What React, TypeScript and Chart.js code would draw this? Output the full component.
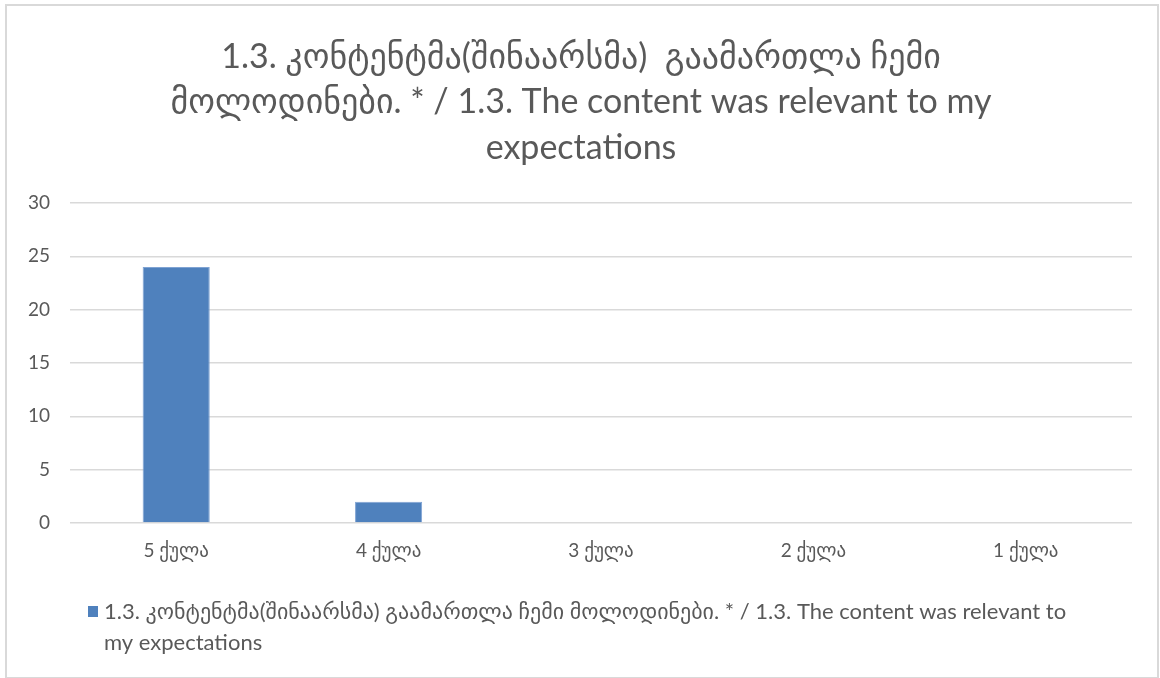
import React, { useEffect, useRef } from "react";
import { Chart, registerables } from "chart.js";

Chart.register(...registerables);

const categories = ["5 ქულა", "4 ქულა", "3 ქულა", "2 ქულა", "1 ქულა"];
const values = [24, 2, 0, 0, 0];
const seriesLabel =
  "1.3. კონტენტმა(შინაარსმა) გაამართლა ჩემი მოლოდინები. * / 1.3. The content was relevant to my expectations";
const titleLines = [
  "1.3. კონტენტმა(შინაარსმა)  გაამართლა ჩემი",
  "მოლოდინები. * / 1.3. The content was relevant to my",
  "expectations",
];
const legendLines = [
  "1.3. კონტენტმა(შინაარსმა) გაამართლა ჩემი მოლოდინები. * / 1.3. The content was relevant to",
  "my expectations",
];
const yMin = 0;
const yMax = 30;
const yStep = 5;

const FONT = "Lato, 'DejaVu Sans', sans-serif";
const TEXT = "#595959";
const BAR = "#4f81bd";

const decorPlugin = {
  id: "decor",
  afterDraw(chart: any) {
    const ctx = chart.ctx as CanvasRenderingContext2D;
    ctx.save();
    // title
    ctx.fillStyle = TEXT;
    ctx.textAlign = "center";
    ctx.textBaseline = "alphabetic";
    ctx.font = `34px ${FONT}`;
    const titleY = [68, 113, 159];
    titleLines.forEach((l, i) => ctx.fillText(l, 581, titleY[i]));
    // legend
    ctx.fillStyle = BAR;
    ctx.fillRect(88, 606, 10, 11);
    ctx.fillStyle = TEXT;
    ctx.textAlign = "left";
    ctx.textBaseline = "middle";
    ctx.font = `22px ${FONT}`;
    const legY = [612, 643];
    legendLines.forEach((l, i) => ctx.fillText(l, 104, legY[i]));
    ctx.restore();
  },
};

export default function App() {
  const ref = useRef<HTMLCanvasElement | null>(null);
  useEffect(() => {
    document.body.style.margin = "0";
    const canvas = ref.current!;
    const chart = new Chart(canvas, {
      type: "bar",
      data: {
        labels: categories,
        datasets: [
          {
            label: seriesLabel,
            data: values,
            backgroundColor: BAR,
            borderColor: "#7fa3d3",
            borderWidth: 1,
            categoryPercentage: 1,
            barPercentage: 0.316,
          },
        ],
      },
      options: {
        responsive: false,
        animation: false,
        layout: { padding: { top: 203, right: 28, left: 0, bottom: 0 } },
        plugins: {
          legend: { display: false },
          title: { display: false },
          tooltip: { enabled: false },
        },
        scales: {
          x: {
            grid: { display: false, drawTicks: false },
            border: { display: false },
            ticks: {
              color: TEXT,
              font: { family: FONT, size: 19 },
              padding: 16,
            },
            afterFit(scale: any) {
              scale.height = 155;
            },
          },
          y: {
            min: yMin,
            max: yMax,
            ticks: {
              stepSize: yStep,
              color: TEXT,
              font: { family: FONT, size: 19 },
              padding: 20,
            },
            grid: { color: "#d9d9d9", lineWidth: 1.5, drawTicks: false },
            border: { display: false },
            afterFit(scale: any) {
              scale.width = 70;
            },
          },
        },
      },
      plugins: [decorPlugin],
    });
    return () => chart.destroy();
  }, []);
  return (
    <div style={{ position: "relative", width: 1160, height: 678, background: "#fff" }}>
      <canvas ref={ref} width={1160} height={678} style={{ display: "block" }} />
      <div
        style={{
          position: "absolute",
          left: 5,
          top: 4,
          width: 1154,
          height: 674,
          boxSizing: "border-box",
          borderTop: "2px solid #d9d9d9",
          borderLeft: "2px solid #d9d9d9",
          borderRight: "2px solid #d9d9d9",
          borderBottom: "1px solid #d9d9d9",
          pointerEvents: "none",
        }}
      />
    </div>
  );
}
